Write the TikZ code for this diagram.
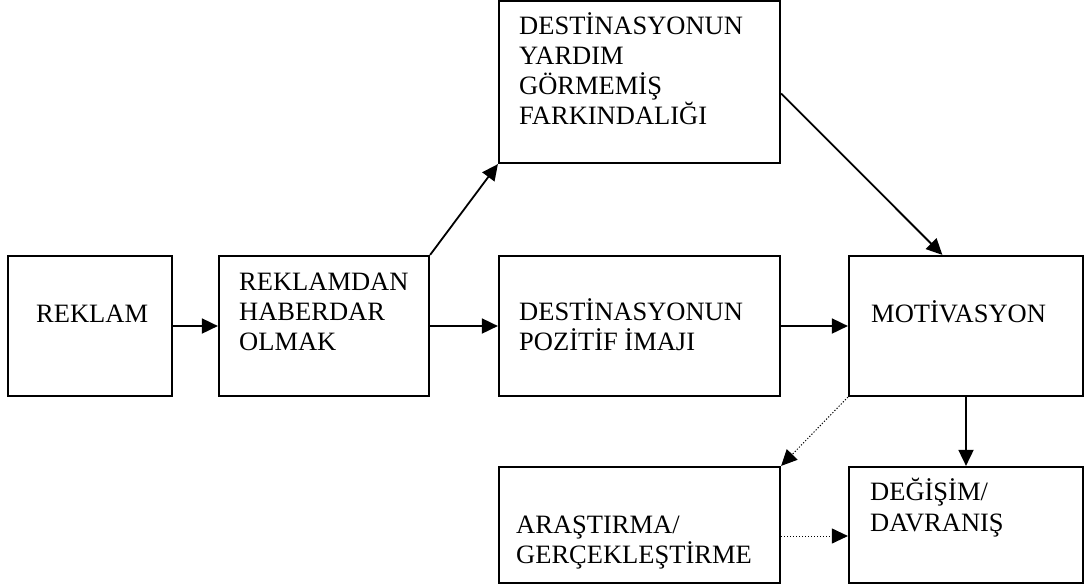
\documentclass[tikz,border=0pt]{standalone}
\usepackage{fontspec}
\setmainfont{Liberation Serif}
\usetikzlibrary{arrows.meta,calc}
\tikzset{
  stage/.style={draw, line width=2.2pt, rectangle, inner sep=0pt},
  txt/.style={anchor=base west, inner sep=0pt, font=\fontsize{26.5}{30}\selectfont},
  flow/.style={line width=1.8pt, -{Triangle[length=16pt,width=15pt]}},
  weak/.style={line width=1pt, dash pattern=on 1.2pt off 1.8pt, -{Triangle[length=16pt,width=15pt]}},
}
\begin{document}
\begin{tikzpicture}[x=1pt,y=-1pt]
\useasboundingbox (0,0) rectangle (1086,587);

% boxes
\node[stage, minimum width=164pt, minimum height=140pt] (reklam)    at (90,326)    {};
\node[stage, minimum width=210pt, minimum height=140pt] (haberdar)  at (324,326)   {};
\node[stage, minimum width=281pt, minimum height=162pt] (yardim)    at (639.5,82)  {};
\node[stage, minimum width=281pt, minimum height=140pt] (imaj)      at (639.5,326) {};
\node[stage, minimum width=234pt, minimum height=140pt] (motiv)     at (966,326)   {};
\node[stage, minimum width=281pt, minimum height=116pt] (arastirma) at (639.5,525) {};
\node[stage, minimum width=234pt, minimum height=116pt] (degisim)   at (966,525)   {};

% labels, one line per node, 30pt apart
\node[txt] (reklam-1) at (36,322) {REKLAM};
\foreach \t [count=\i] in {REKLAMDAN,HABERDAR,OLMAK}
  \node[txt] (haberdar-\i) at (239,{290+30*(\i-1)}) {\t};
\foreach \t [count=\i] in {DESTİNASYONUN,YARDIM,GÖRMEMİŞ,FARKINDALIĞI}
  \node[txt] (yardim-\i) at (519,{34+30*(\i-1)}) {\t};
\foreach \t [count=\i] in {DESTİNASYONUN,POZİTİF İMAJI}
  \node[txt] (imaj-\i) at (519,{320+30*(\i-1)}) {\t};
\node[txt] (motiv-1) at (871,322) {MOTİVASYON};
\foreach \t [count=\i] in {ARAŞTIRMA/,GERÇEKLEŞTİRME}
  \node[txt] (arastirma-\i) at (516,{533+30*(\i-1)}) {\t};
\foreach \t [count=\i] in {DEĞİŞİM/,DAVRANIŞ}
  \node[txt] (degisim-\i) at (870,{500+31*(\i-1)}) {\t};

% connectors
\draw[flow] (reklam) -- (haberdar);
\draw[flow] (haberdar.north east) -- (yardim.south west);
\draw[flow] (haberdar) -- (imaj);
\draw[flow] (imaj) -- (motiv);
\draw[flow] ($(yardim.north east)!0.57!(yardim.south east)$) -- ($(motiv.north west)!0.4!(motiv.north east)$);
\draw[flow] (motiv) -- (degisim);
\draw[weak] (motiv.south west) -- (arastirma.north east);
\draw[weak] ([yshift=-11pt]arastirma.east) -- ([yshift=-11pt]degisim.west);
\end{tikzpicture}
\end{document}
